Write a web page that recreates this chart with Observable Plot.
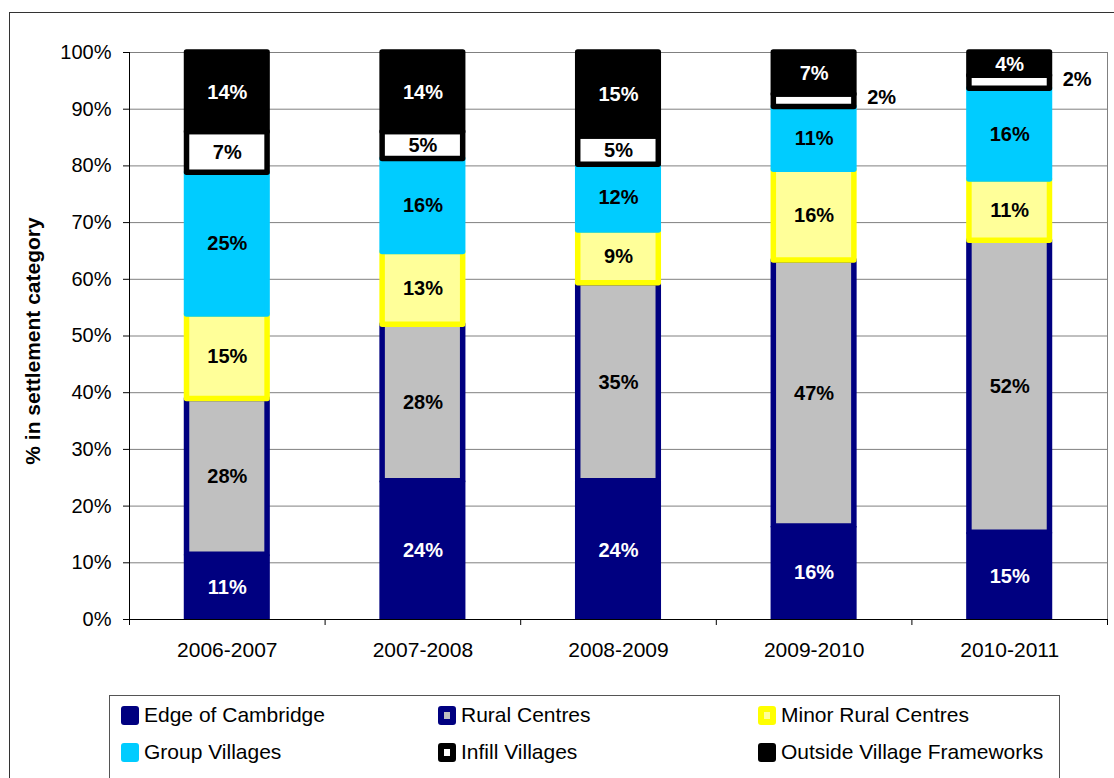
<!DOCTYPE html>
<html><head><meta charset="utf-8">
<script src="https://cdn.jsdelivr.net/npm/d3@7"></script>
<script src="https://cdn.jsdelivr.net/npm/@observablehq/plot@0.6"></script>
<style>
body{margin:0;background:#fff;font-family:"Liberation Sans",Arial,sans-serif;}
#wrap{position:relative;width:1114px;height:778px;overflow:hidden;background:#fff;}
#frame{position:absolute;left:9px;top:12px;width:1300px;height:1000px;border:1.5px solid #333;}
#chart{position:absolute;left:0;top:0;}
#legend{position:absolute;left:109px;top:695px;width:951px;height:84px;border:1.5px solid #555;box-sizing:border-box;background:#fff;}
.item{position:absolute;display:flex;align-items:center;height:24px;font-size:21px;color:#000;white-space:nowrap;}
.sw{width:18px;height:19px;box-sizing:border-box;border-radius:3px;margin-right:5px;flex:none;}
</style>
</head><body>
<div id="wrap"><div id="frame"></div><div id="chart"></div><div id="legend"></div></div>
<script>
const years = ["2006-2007","2007-2008","2008-2009","2009-2010","2010-2011"];
const seriesNames = ["Edge of Cambridge","Rural Centres","Minor Rural Centres","Group Villages","Infill Villages","Outside Village Frameworks"];
const edgeOfCambridge = [11.4, 24.4, 24.4, 16.4, 15.3];
const ruralCentres = [27.5, 27.6, 34.9, 46.9, 51.5];
const minorRuralCentres = [14.9, 12.8, 9.3, 16.0, 10.8];
const groupVillages = [25.0, 16.4, 11.6, 11.1, 16.0];
const infillVillages = [7.2, 4.8, 5.0, 2.2, 2.3];
const outsideVillageFrameworks = [14.0, 14.0, 14.8, 7.4, 4.1];
const yTicks = [0,10,20,30,40,50,60,70,80,90,100];

const seriesValues = [edgeOfCambridge, ruralCentres, minorRuralCentres, groupVillages, infillVillages, outsideVillageFrameworks];
const fills = ["#000080","#C0C0C0","#FFFF99","#00CCFF","#FFFFFF","#000000"];
const strokes = [null,"#000080","#FFFF00","#00CCFF","#000000","#000000"];
const labelColors = ["#FFFFFF","#000000","#000000","#000000","#000000","#FFFFFF"];
const SW = 5.5;

const rows = [];
years.forEach((yr, i) => {
  let acc = 0;
  seriesValues.forEach((vals, s) => {
    const v = vals[i];
    rows.push({i, year: yr, s, v, y1: acc, y2: acc + v});
    acc += v;
  });
});

const barMarks = seriesValues.map((_, s) => {
  const opts = {
    x1: r => r.i + 0.28, x2: r => r.i + 0.72, y1: "y1", y2: "y2",
    fill: fills[s]
  };
  if (strokes[s]) Object.assign(opts, {stroke: strokes[s], strokeWidth: SW, strokeLinejoin: "round", insetLeft: SW/2, insetRight: SW/2});
  return Plot.rect(rows.filter(r => r.s === s), opts);
});

const isOutside = r => r.s === 4 && r.v < 3;
const chart = Plot.plot({
  width: 1114, height: 680,
  marginLeft: 129, marginRight: 7, marginTop: 52, marginBottom: 61,
  x: {domain: [0, years.length], axis: null},
  y: {domain: [0, 100], axis: null},
  style: {fontFamily: "'Liberation Sans', Arial, sans-serif", fontSize: "20px", color: "#000", background: "transparent", overflow: "visible"},
  marks: [
    Plot.gridY(yTicks.slice(1), {stroke: "#808080", strokeOpacity: 1}),
    Plot.ruleX([years.length], {stroke: "#808080"}),
    ...barMarks,
    Plot.ruleX([0], {stroke: "#000"}),
    Plot.ruleY([0], {stroke: "#000"}),
    Plot.axisY({ticks: yTicks, tickFormat: d => d + "%", tickSize: 6, tickPadding: 12, fontSize: 20, label: null}),
    Plot.axisX({ticks: d3.range(0, years.length + 1), tickSize: 6, tickFormat: () => "", label: null}),
    Plot.text(years, {x: (d, i) => i + 0.5, y: 0, dy: 31, fontSize: 21, lineAnchor: "middle"}),
    Plot.text(rows.filter(r => !isOutside(r)), {
      x: r => r.i + 0.5, y: r => (r.y1 + r.y2) / 2,
      text: r => Math.round(r.v) + "%", fill: r => labelColors[r.s],
      fontWeight: "bold", fontSize: 20, lineAnchor: "middle"
    }),
    Plot.text(rows.filter(isOutside), {
      x: r => r.i + 0.72, y: r => (r.y1 + r.y2) / 2, dx: 10, dy: -3,
      text: r => Math.round(r.v) + "%", fill: "#000", textAnchor: "start",
      fontWeight: "bold", fontSize: 20, lineAnchor: "middle"
    }),
    Plot.text(["% in settlement category"], {frameAnchor: "left", dx: -96, dy: 5, rotate: -90, textAnchor: "middle", fontWeight: "bold", fontSize: 21})
  ]
});
document.getElementById("chart").appendChild(chart);

// legend
const legend = document.getElementById("legend");
const colLefts = [11, 328, 648];
const rowTops = [7, 44];
const swatchStyles = [
  "background:#000080;",
  "background:#C0C0C0;border:6px solid #000080;",
  "background:#FFFF99;border:6px solid #FFFF00;",
  "background:#00CCFF;",
  "background:#FFFFFF;border:6px solid #000000;",
  "background:#000000;"
];
seriesNames.forEach((name, k) => {
  const item = document.createElement("div");
  item.className = "item";
  item.style.left = colLefts[k % 3] + "px";
  item.style.top = rowTops[Math.floor(k / 3)] + "px";
  const sw = document.createElement("div");
  sw.className = "sw";
  sw.style.cssText = swatchStyles[k];
  const t = document.createElement("span");
  t.textContent = name;
  item.appendChild(sw); item.appendChild(t);
  legend.appendChild(item);
});
</script>
</body></html>
